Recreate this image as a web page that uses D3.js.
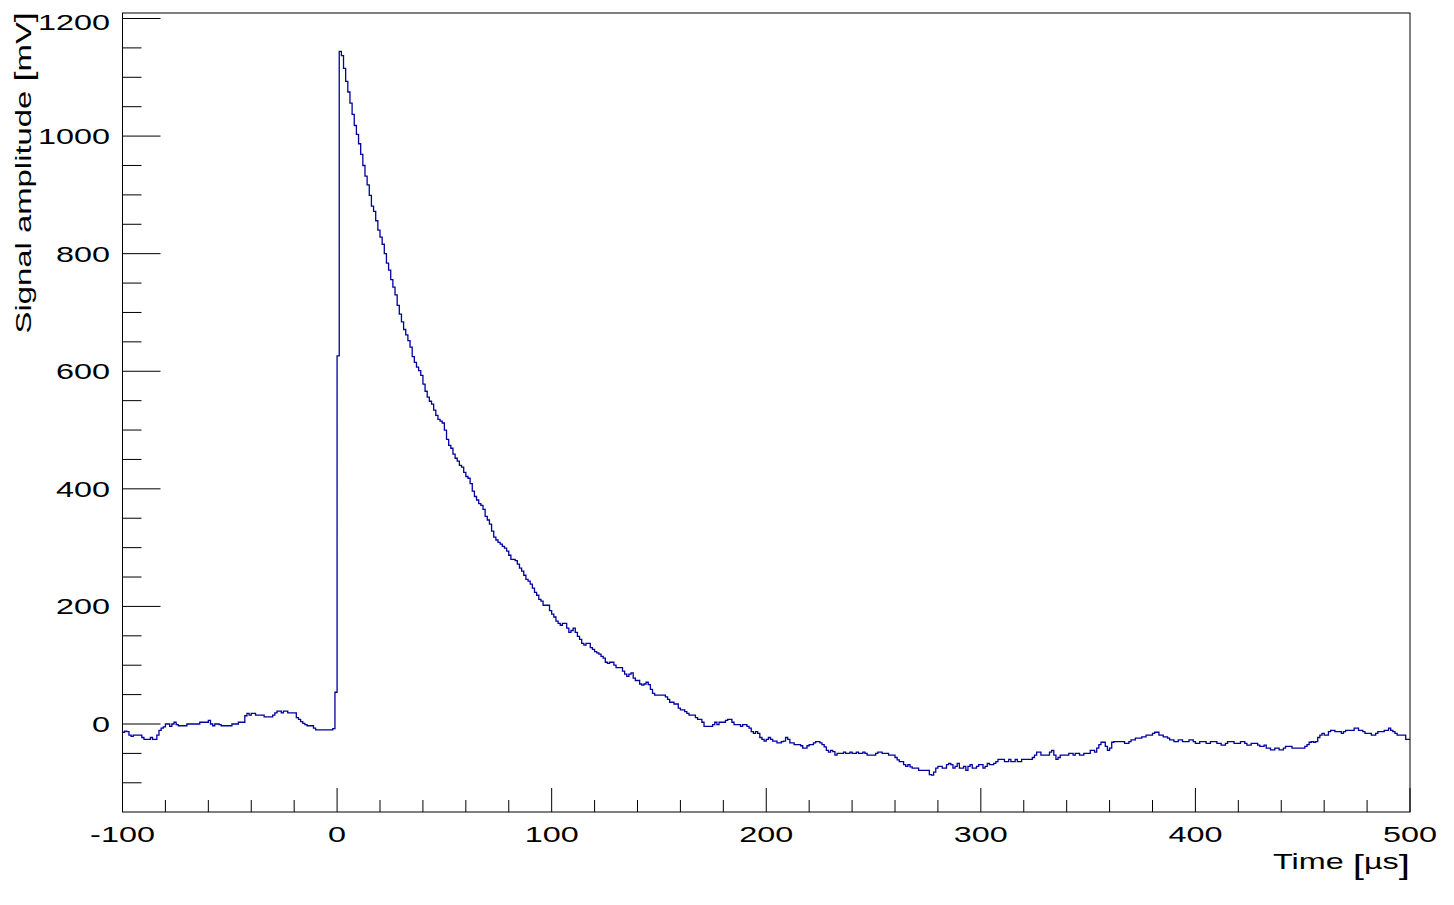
<!DOCTYPE html>
<html>
<head>
<meta charset="utf-8">
<script src="https://cdn.jsdelivr.net/npm/d3@7"></script>
<style>
  html, body { margin: 0; padding: 0; background: #fff; }
  svg text { font-family: "Liberation Sans", Arial, Helvetica, sans-serif; }
</style>
</head>
<body>
<svg id="chart" width="1454" height="905"></svg>
<script>
// ---- Data: 1 µs bins, first bin starts at -100 µs ----
const binStart = -100;
const binWidth = 1;

// t = -100 .. -1
const baseline = [
  -14,-12,-13,-19,-21,-19,-19,-19,-19,-23,
  -26,-26,-26,-23,-26,-26,-19,-11,-7,-5,
  0,0,-4,0,3,-1,-3,-3,-3,-3,
  0,0,0,0,0,0,3,3,3,3,
  6,0,-3,0,0,-1,-3,-3,-3,-3,
  -3,0,0,0,3,3,3,14,18,15,
  18,18,15,15,15,15,12,12,12,12,
  15,19,22,22,19,22,22,19,19,19,
  19,11,8,4,1,-1,-3,-3,-3,-7,
  -10,-10,-10,-10,-10,-10,-10,-10,-8,54
];
// t = 0 .. 116
const pulse = [
  626,
  1144,1137,1115,1093,1075,1056,1037,1018,1003,987,
  969,950,932,917,899,881,872,856,840,828,
  816,800,784,772,756,743,730,712,697,684,
  671,662,652,641,625,615,607,601,593,578,
  566,556,549,544,534,525,518,515,512,500,
  484,474,469,459,452,447,440,437,428,421,
  418,409,396,387,381,375,372,365,353,347,
  340,328,318,313,309,306,302,299,294,287,
  280,280,278,272,265,260,253,246,243,238,
  231,224,219,212,209,202,202,202,193,187,
  182,175,171,168,171,171,163,156,159,163,
  156,149,144,137,134,137
];
// t = 117 .. 227
const tailA = [
  137,130,127,123,121,119,115,112,105,103,
  105,105,100,96,96,96,90,85,81,85,
  87,78,74,74,68,66,68,71,67,59,
  52,49,49,49,49,49,46,42,37,37,
  34,34,27,24,24,21,18,15,15,15,
  11,8,8,3,-4,-4,-4,-4,-1,3,
  -1,3,3,3,6,8,8,3,-1,-1,
  -1,-4,-1,-1,-4,-7,-13,-16,-13,-16,
  -23,-26,-29,-26,-23,-26,-29,-29,-32,-32,
  -30,-29,-23,-26,-32,-32,-35,-35,-35,-37,
  -41,-41,-37,-35,-35,-32,-30,-30,-32,-35,
  -39
];
// t = 228 .. 364
const tailB = [
  -45,-48,-45,-47,-53,-50,-50,-50,-48,-50,
  -50,-48,-50,-50,-48,-50,-50,-48,-50,-53,
  -53,-53,-53,-50,-48,-48,-50,-50,-50,-53,
  -53,-53,-57,-61,-64,-64,-69,-72,-69,-73,
  -75,-75,-75,-79,-79,-79,-79,-79,-86,-87,
  -82,-75,-72,-72,-75,-75,-69,-67,-69,-75,
  -72,-67,-75,-75,-72,-79,-72,-69,-75,-75,
  -72,-69,-69,-75,-72,-67,-69,-69,-67,-64,
  -60,-60,-60,-64,-64,-60,-64,-64,-60,-64,
  -64,-60,-60,-60,-60,-60,-57,-53,-48,-48,
  -53,-53,-53,-53,-48,-45,-53,-60,-57,-53,
  -53,-53,-53,-50,-50,-53,-50,-50,-53,-53,
  -50,-50,-50,-45,-45,-48,-41,-35,-31,-31,
  -38,-45,-41,-31,-30,-30,-30
];
// t = 365 .. 499
const tailC = [
  -30,-30,-33,-33,-30,-27,-27,-24,-24,-24,
  -22,-22,-19,-19,-19,-16,-14,-14,-19,-19,
  -22,-22,-24,-27,-27,-30,-30,-27,-27,-30,
  -30,-30,-27,-27,-30,-33,-33,-30,-30,-30,
  -33,-33,-30,-30,-30,-33,-33,-36,-36,-33,
  -30,-30,-30,-33,-33,-33,-30,-30,-33,-36,
  -36,-33,-33,-33,-36,-38,-38,-36,-41,-41,
  -44,-44,-41,-41,-44,-44,-41,-38,-38,-38,
  -41,-41,-41,-41,
  -41,-41,-38,-35,-31,-30,-31,-30,-23,-19,
  -16,-19,-19,-13,-11,-11,-13,-13,-13,-16,
  -13,-11,-11,-11,-11,-7,-7,-11,-11,-13,
  -16,-16,-16,-19,-19,-16,-13,-13,-13,-11,
  -11,-7,-11,-13,-16,-19,-19,-19,-19,-26,
  -26
];

const xTickMajor = [-100, 0, 100, 200, 300, 400, 500];
const yTickMajor = [0, 200, 400, 600, 800, 1000, 1200];
const xTitleParts = ["Time ", "[", "\u00b5s", "]"];
const yTitleParts = ["Signal amplitude ", "[", "mV", "]"];

// ---- Build ----
const values = [].concat(baseline, pulse, tailA, tailB, tailC);
const bins = values.map((v, i) => ({ t: binStart + i * binWidth, v }));
const xEnd = binStart + values.length * binWidth;

const svg = d3.select("#chart");
const L = 122.5, R = 1410, T = 13, B = 812;
const FS = 22.5, SX = 1.44;   // font size and horizontal glyph stretch

const x = d3.scaleLinear().domain([-100, 500]).range([L, R]);
const y = d3.scaleLinear().domain([0, 1200]).range([724, 18.5]);
const yMin = y.invert(B), yMax = y.invert(T);
y.domain([yMin, yMax]).range([B, T]);

svg.append("defs").append("clipPath").attr("id", "clip")
  .append("rect").attr("x", L).attr("y", T).attr("width", R - L).attr("height", B - T);

// histogram step line
const pts = bins.map(d => [d.t, d.v]);
pts.push([xEnd, values[values.length - 1]]);
const line = d3.line().x(d => x(d[0])).y(d => y(d[1])).curve(d3.curveStepAfter);
svg.append("path")
  .attr("clip-path", "url(#clip)")
  .attr("d", line(pts))
  .attr("fill", "none")
  .attr("stroke", "#00009c")
  .attr("stroke-width", 1.3);

// frame
svg.append("rect").attr("x", L).attr("y", T).attr("width", R - L).attr("height", B - T)
  .attr("fill", "none").attr("stroke", "#000").attr("stroke-width", 1);

// x ticks (inside, pointing up)
const xMinor = d3.range(-100, 501, 20);
svg.append("g").selectAll("line").data(xMinor).join("line")
  .attr("x1", d => x(d)).attr("x2", d => x(d))
  .attr("y1", B).attr("y2", d => (d % 100 === 0 ? B - 24 : B - 12))
  .attr("stroke", "#000").attr("stroke-width", 1);
svg.append("g").selectAll("text").data(xTickMajor).join("text")
  .attr("transform", d => `translate(${x(d)},842) scale(${SX},1)`)
  .attr("text-anchor", "middle").attr("font-size", FS)
  .text(d => d);

// y ticks (inside, pointing right)
const yMinor = d3.range(-100, 1201, 50);
svg.append("g").selectAll("line").data(yMinor).join("line")
  .attr("x1", L).attr("x2", d => (d % 200 === 0 ? L + 38 : L + 19))
  .attr("y1", d => y(d)).attr("y2", d => y(d))
  .attr("stroke", "#000").attr("stroke-width", 1);
svg.append("g").selectAll("text").data(yTickMajor).join("text")
  .attr("transform", d => `translate(110,${y(d) + 8 + (d === 1200 ? 3 : 0)}) scale(${SX},1)`)
  .attr("text-anchor", "end").attr("font-size", FS)
  .text(d => d);

// titles (TLatex-style enlarged brackets)
function title(transform, parts, bracketSize, bracketShift) {
  const t = svg.append("text").attr("transform", transform)
    .attr("text-anchor", "end").attr("font-size", FS);
  parts.forEach((p, i) => {
    const isBr = (p === "[" || p === "]");
    const prevBr = i > 0 && (parts[i - 1] === "[" || parts[i - 1] === "]");
    let dy = 0;
    if (isBr) dy = bracketShift; else if (prevBr) dy = -bracketShift;
    t.append("tspan").attr("dy", dy)
      .attr("font-size", isBr ? bracketSize : FS)
      .text(p);
  });
}
title(`translate(1410,869) scale(${SX},1)`, xTitleParts, 28, 5);
title(`translate(31,12) rotate(-90) scale(1.46,1)`, yTitleParts, 25, 2);
</script>
</body>
</html>
